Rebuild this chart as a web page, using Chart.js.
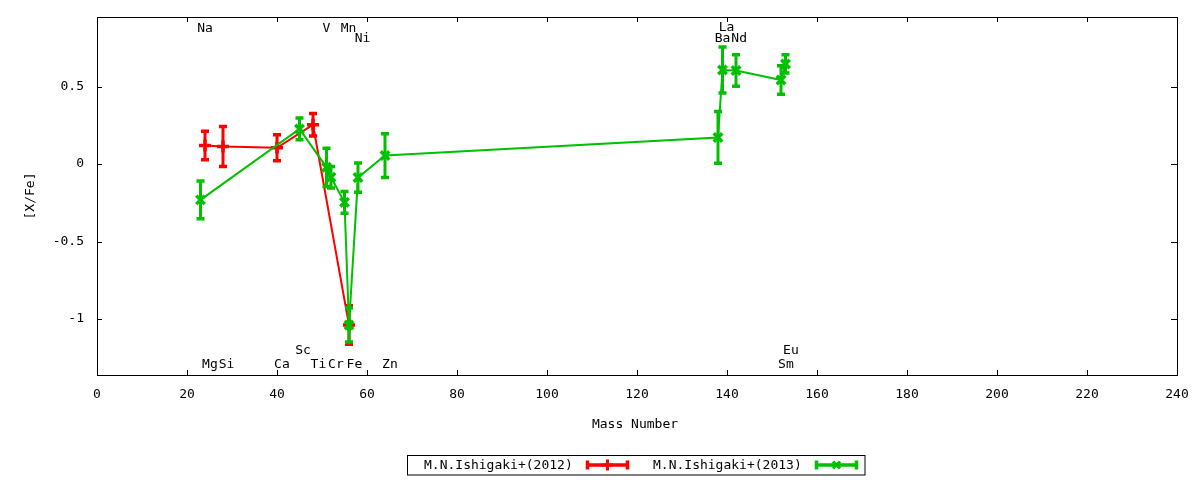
<!DOCTYPE html>
<html lang="en">
<head>
    <meta charset="UTF-8">
    <title>[X/Fe] vs Mass Number</title>
    <script src="https://cdn.jsdelivr.net/npm/chart.js"></script>
    <style>
        body {
            margin: 0;
            padding: 0;
            background: #fff;
        }
        #wrap {
            width: 1200px;
            height: 480px;
        }
    </style>
</head>
<body>
<div id="wrap"><canvas id="abundChart"></canvas></div>

<script>
    // M.N.Ishigaki+(2012)
    const redMass = [24, 28, 40, 48, 56];
    const redVal  = [0.120, 0.114, 0.105, 0.254, -1.039];
    const redErr  = [0.092, 0.129, 0.084, 0.072, 0.125];

    // M.N.Ishigaki+(2013)
    const greenMass = [23, 45, 51, 52, 55, 56, 58, 64, 138, 139, 142, 152, 153];
    const greenVal  = [-0.231, 0.227, -0.021, -0.085, -0.247, -1.039, -0.087, 0.055, 0.172, 0.608, 0.604, 0.543, 0.647];
    const greenErr  = [0.122, 0.070, 0.124, 0.070, 0.070, 0.110, 0.094, 0.141, 0.167, 0.149, 0.102, 0.092, 0.059];

    const seriesNames = ['M.N.Ishigaki+(2012)', 'M.N.Ishigaki+(2013)'];

    // element labels (text positions in data coordinates)
    const elemNames = ['Na', 'Mg', 'Si', 'Ca', 'Sc', 'Ti', 'V', 'Cr', 'Mn', 'Fe', 'Ni', 'Zn', 'Ba', 'La', 'Nd', 'Sm', 'Eu'];
    const elemX = [24.0, 25.1, 28.8, 41.1, 45.8, 49.2, 51.0, 53.1, 55.9, 57.2, 59.0, 65.1, 139.0, 139.9, 142.7, 153.1, 154.2];
    const elemY = [0.8875, -1.286, -1.286, -1.286, -1.196, -1.286, 0.8875, -1.286, 0.8875, -1.286, 0.823, -1.286, 0.823, 0.891, 0.823, -1.286, -1.196];

    const xTicks = [0, 20, 40, 60, 80, 100, 120, 140, 160, 180, 200, 220, 240];
    const yTicks = [-1, -0.5, 0, 0.5];

    const RED = '#ff0000';
    const GREEN = '#00c000';
    const FONT = '13px "DejaVu Sans Mono"';

    function toPoints(xs, ys, es) {
        return xs.map((x, i) => ({ x: x, y: ys[i], e: es[i] }));
    }

    function drawBar(ctx, x, yTop, yBot, color) {
        ctx.save();
        ctx.strokeStyle = color;
        ctx.lineWidth = 3;
        ctx.lineCap = 'butt';
        ctx.beginPath();
        ctx.moveTo(x, yTop);
        ctx.lineTo(x, yBot);
        ctx.stroke();
        ctx.lineWidth = 3.5;
        ctx.beginPath();
        ctx.moveTo(x - 4, yTop);
        ctx.lineTo(x + 4, yTop);
        ctx.moveTo(x - 4, yBot);
        ctx.lineTo(x + 4, yBot);
        ctx.stroke();
        ctx.restore();
    }

    const errorBars = {
        id: 'errorBars',
        beforeDatasetDraw(chart, args) {
            const ctx = chart.ctx;
            const ds = chart.data.datasets[args.index];
            const xs = chart.scales.x, ys = chart.scales.y;
            ds.data.forEach(p => {
                const px = xs.getPixelForValue(p.x);
                drawBar(ctx, px, ys.getPixelForValue(p.y + p.e), ys.getPixelForValue(p.y - p.e), ds.borderColor);
            });
        }
    };

    const frame = {
        id: 'frame',
        afterDraw(chart) {
            const ctx = chart.ctx;
            const a = chart.chartArea;
            const xs = chart.scales.x, ys = chart.scales.y;
            ctx.save();
            ctx.strokeStyle = '#000';
            ctx.lineWidth = 1;
            ctx.strokeRect(Math.round(a.left) + 0.5, Math.round(a.top) + 0.5,
                Math.round(a.right - a.left), Math.round(a.bottom - a.top));
            ctx.beginPath();
            xTicks.forEach(v => {
                const px = Math.round(xs.getPixelForValue(v)) + 0.5;
                ctx.moveTo(px, a.bottom); ctx.lineTo(px, a.bottom - 5);
                ctx.moveTo(px, a.top); ctx.lineTo(px, a.top + 5);
            });
            yTicks.forEach(v => {
                const py = Math.round(ys.getPixelForValue(v)) + 0.5;
                ctx.moveTo(a.left, py); ctx.lineTo(a.left + 5, py);
                ctx.moveTo(a.right, py); ctx.lineTo(a.right - 6, py);
            });
            ctx.stroke();

            // element labels
            ctx.fillStyle = '#000';
            ctx.font = FONT;
            ctx.textAlign = 'center';
            ctx.textBaseline = 'middle';
            elemNames.forEach((n, i) => {
                ctx.fillText(n, xs.getPixelForValue(elemX[i]), ys.getPixelForValue(elemY[i]) + 1.5);
            });

            // axis titles
            ctx.fillText('Mass Number', (a.left + a.right) / 2 - 2, 425);
            ctx.save();
            ctx.translate(31, 196);
            ctx.rotate(-Math.PI / 2);
            ctx.fillText('[X/Fe]', 0, 0);
            ctx.restore();

            // legend
            ctx.strokeStyle = '#000';
            ctx.lineWidth = 1;
            ctx.strokeRect(407.5, 455.5, 457.5, 19.5);
            ctx.textAlign = 'left';
            const items = [
                { text: seriesNames[0], tx: 424, sx: 586, color: RED, style: 'cross', r: 5.5 },
                { text: seriesNames[1], tx: 653, sx: 815, color: GREEN, style: 'crossRot', r: 5 }
            ];
            items.forEach(it => {
                ctx.fillStyle = '#000';
                ctx.fillText(it.text, it.tx, 465.5);
                ctx.strokeStyle = it.color;
                ctx.lineWidth = 3.5;
                ctx.beginPath();
                ctx.moveTo(it.sx, 465); ctx.lineTo(it.sx + 43, 465);
                ctx.moveTo(it.sx + 1.5, 460.5); ctx.lineTo(it.sx + 1.5, 469.5);
                ctx.moveTo(it.sx + 41.5, 460.5); ctx.lineTo(it.sx + 41.5, 469.5);
                ctx.stroke();
                ctx.lineWidth = 3;
                Chart.helpers.drawPoint(ctx, { pointStyle: it.style, radius: it.r, borderWidth: 3 }, it.sx + 21.5, 465);
            });
            ctx.restore();
        }
    };

    const chart = new Chart(document.getElementById('abundChart').getContext('2d'), {
        type: 'scatter',
        data: {
            datasets: [
                {
                    label: seriesNames[0],
                    data: toPoints(redMass, redVal, redErr),
                    showLine: true,
                    borderColor: RED,
                    backgroundColor: RED,
                    borderWidth: 2,
                    pointStyle: 'cross',
                    pointRadius: 6,
                    pointBorderWidth: 3.5,
                    order: 2
                },
                {
                    label: seriesNames[1],
                    data: toPoints(greenMass, greenVal, greenErr),
                    showLine: true,
                    borderColor: GREEN,
                    backgroundColor: GREEN,
                    borderWidth: 2,
                    pointStyle: 'crossRot',
                    pointRadius: 6,
                    pointBorderWidth: 3.5,
                    order: 1
                }
            ]
        },
        options: {
            responsive: true,
            maintainAspectRatio: false,
            animation: false,
            layout: { padding: { left: 0, top: 17, right: 23, bottom: 0 } },
            plugins: {
                legend: { display: false },
                tooltip: { enabled: false }
            },
            scales: {
                x: {
                    type: 'linear',
                    min: 0,
                    max: 240,
                    afterBuildTicks: s => { s.ticks = xTicks.map(v => ({ value: v })); },
                    afterFit: s => { s.height = 105; s.paddingLeft = 0; s.paddingRight = 0; },
                    grid: { display: false, drawTicks: false },
                    border: { display: false },
                    ticks: {
                        color: '#000',
                        font: { family: 'DejaVu Sans Mono', size: 13 },
                        padding: 12,
                        maxRotation: 0,
                        callback: v => String(v)
                    }
                },
                y: {
                    type: 'linear',
                    min: -1.362,
                    max: 0.95,
                    afterBuildTicks: s => { s.ticks = yTicks.map(v => ({ value: v })); },
                    afterFit: s => { s.width = 97; s.paddingTop = 0; s.paddingBottom = 0; },
                    grid: { display: false, drawTicks: false },
                    border: { display: false },
                    ticks: {
                        color: '#000',
                        font: { family: 'DejaVu Sans Mono', size: 13 },
                        padding: 13,
                        callback: v => String(v)
                    }
                }
            }
        },
        plugins: [errorBars, frame]
    });
</script>
</body>
</html>
